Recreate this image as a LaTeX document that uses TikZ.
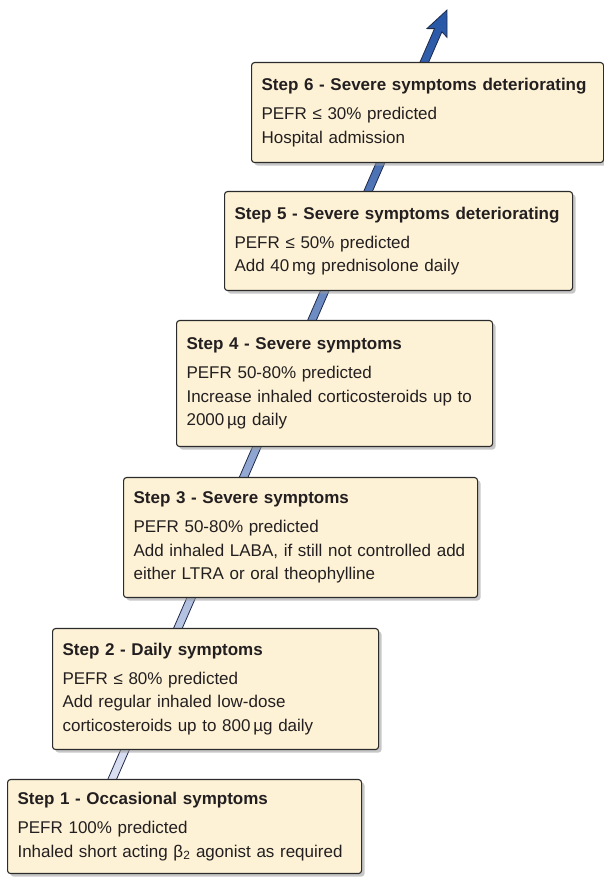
\documentclass[tikz,border=0pt]{standalone}
\usepackage{fontspec}
\setmainfont{Liberation Sans}
\usepackage{tikz}
\usetikzlibrary{positioning,shadows}
\definecolor{boxfill}{HTML}{FDF2D6}
\definecolor{boxline}{HTML}{2B2B2B}
\definecolor{textcol}{HTML}{231F20}
\definecolor{arrowtop}{HTML}{2656A6}
\definecolor{arrowbottom}{HTML}{E2E4F4}
\definecolor{arrowline}{HTML}{1F2A48}
\newcommand{\stepfont}{\fontsize{17}{23.5}\selectfont\hyphenpenalty=10000}
\tikzset{
  stepbox/.style={draw=boxline, line width=1.1pt, rounded corners=3pt, fill=boxfill, text=textcol,
    align=left, anchor=north west, inner xsep=10pt, inner ysep=0pt, font=\stepfont,
    drop shadow={shadow xshift=3pt, shadow yshift=-3pt, fill=black!40, opacity=.55}},
  arrowbody/.style={draw=arrowline, line width=0.8pt, top color=arrowtop, bottom color=arrowbottom}
}

\begin{document}
\begin{tikzpicture}[x=1pt, y=1pt]
  \useasboundingbox (0,0) rectangle (604,879);
  % the long arrow behind the steps
  \coordinate (base) at (101,74);
  \coordinate (tip) at (447,869);
  \begin{scope}[shift={(base)}, rotate=-23.52]
    \path[arrowbody] (-4,0) -- (-4,845) -- (-11,842) -- (0,867) -- (11,842) -- (4,845) -- (4,0) -- cycle;
  \end{scope}
  % steps, bottom to top
  \node[stepbox, text width=334pt, minimum height=94pt] (s1) at (7,100)
    {\textbf{Step 1 - Occasional symptoms}\\[5.5pt]
     PEFR 100\% predicted\\
     Inhaled short acting β\textsubscript{2} agonist as required};
  \node[stepbox, text width=306pt, minimum height=121pt] (s2) at (52,251)
    {\textbf{Step 2 - Daily symptoms}\\[5.5pt]
     PEFR ≤ 80\% predicted\\
     Add regular inhaled low-dose\\
     corticosteroids up to 800\,µg daily};
  \node[stepbox, text width=334pt, minimum height=120pt] (s3) at (123,402)
    {\textbf{Step 3 - Severe symptoms}\\[5.5pt]
     PEFR 50-80\% predicted\\
     Add inhaled LABA, if still not controlled add\\
     either LTRA or oral theophylline};
  \node[stepbox, text width=296pt, minimum height=126pt] (s4) at (176,559)
    {\textbf{Step 4 - Severe symptoms}\\[5.5pt]
     PEFR 50-80\% predicted\\
     Increase inhaled corticosteroids up to\\
     2000\,µg daily};
  \node[stepbox, text width=328pt, minimum height=99pt] (s5) at (224,688)
    {\textbf{Step 5 - Severe symptoms deteriorating}\\[5.5pt]
     PEFR ≤ 50\% predicted\\
     Add 40\,mg prednisolone daily};
  \node[stepbox, text width=332pt, minimum height=100pt] (s6) at (251,817)
    {\textbf{Step 6 - Severe symptoms deteriorating}\\[5.5pt]
     PEFR ≤ 30\% predicted\\
     Hospital admission};
\end{tikzpicture}
\end{document}
